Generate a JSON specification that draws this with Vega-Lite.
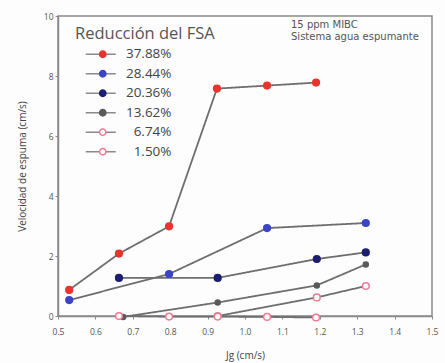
{
  "$schema": "https://vega.github.io/schema/vega-lite/v6.json",
  "width": 374,
  "height": 300,
  "autosize": "none",
  "padding": {"left": 58, "top": 16, "right": 13, "bottom": 47},
  "background": "#fdfdfd",
  "config": {
    "font": "Open Sans",
    "view": {"stroke": "#8a8a8a", "strokeWidth": 1.5},
    "axis": {"domainColor": "#8a8a8a", "domainWidth": 1.5, "tickColor": "#8a8a8a", "labelColor": "#555", "titleColor": "#444", "labelFontSize": 8.5, "titleFontSize": 10, "titleFontWeight": "normal", "grid": false, "tickSize": 3, "labelOverlap": false}
  },
  "datasets": {
    "pts": [
      {"s": "37.88%", "jg": 0.53, "v": 0.87},
      {"s": "37.88%", "jg": 0.663, "v": 2.08},
      {"s": "37.88%", "jg": 0.797, "v": 2.99},
      {"s": "37.88%", "jg": 0.925, "v": 7.58},
      {"s": "37.88%", "jg": 1.059, "v": 7.68},
      {"s": "37.88%", "jg": 1.19, "v": 7.78},
      {"s": "28.44%", "jg": 0.53, "v": 0.53},
      {"s": "28.44%", "jg": 0.797, "v": 1.4},
      {"s": "28.44%", "jg": 1.059, "v": 2.93},
      {"s": "28.44%", "jg": 1.323, "v": 3.1},
      {"s": "20.36%", "jg": 0.663, "v": 1.27},
      {"s": "20.36%", "jg": 0.927, "v": 1.27},
      {"s": "20.36%", "jg": 1.192, "v": 1.9},
      {"s": "20.36%", "jg": 1.323, "v": 2.12},
      {"s": "13.62%", "jg": 0.674, "v": -0.03},
      {"s": "13.62%", "jg": 0.927, "v": 0.45},
      {"s": "13.62%", "jg": 1.192, "v": 1.02},
      {"s": "13.62%", "jg": 1.323, "v": 1.72},
      {"s": "6.74%", "jg": 0.927, "v": 0.0},
      {"s": "6.74%", "jg": 1.192, "v": 0.62},
      {"s": "6.74%", "jg": 1.323, "v": 1.0},
      {"s": "1.50%", "jg": 0.663, "v": 0.0},
      {"s": "1.50%", "jg": 0.797, "v": -0.02},
      {"s": "1.50%", "jg": 0.927, "v": -0.02},
      {"s": "1.50%", "jg": 1.059, "v": -0.03},
      {"s": "1.50%", "jg": 1.19, "v": -0.05}
    ],
    "notes": [
      {"jg": 1.123, "v": 9.7, "t": "15 ppm MIBC"},
      {"jg": 1.123, "v": 9.3, "t": "Sistema agua espumante"}
    ]
  },
  "encoding": {
    "x": {"field": "jg", "type": "quantitative", "scale": {"domain": [0.5, 1.5], "nice": false, "zero": false}, "axis": {"values": [0.5,0.6,0.7,0.8,0.9,1.0,1.1,1.2,1.3,1.4,1.5], "format": ".1f", "title": "Jg (cm/s)", "labelPadding": 8, "titlePadding": 15, "labelOverlap": false, "labelFlush": false, "labelBound": false}},
    "y": {"field": "v", "type": "quantitative", "scale": {"domain": [0, 10], "nice": false}, "axis": {"values": [0,2,4,6,8,10], "title": "Velocidad de espuma (cm/s)", "titlePadding": 16, "labelOverlap": false, "labelFlush": false}}
  },
  "layer": [
    {
      "data": {"name": "pts"},
      "mark": {"type": "line", "color": "#6e6e6e", "strokeWidth": 1.8},
      "encoding": {
        "detail": {"field": "s"},
        "strokeDash": {"field": "s", "type": "nominal", "sort": ["37.88%", "28.44%", "20.36%", "13.62%", "6.74%", "1.50%"],
          "scale": {"range": [[1,0],[1,0],[1,0],[1,0],[1,0],[1,0]]},
          "legend": {"orient": "none", "legendX": 17, "legendY": 10, "title": "Reducción del FSA", "titleFontSize": 16.5, "titleFontWeight": "normal", "titleColor": "#555", "labelExpr": "' '", "labelFontSize": 13.5, "symbolType": "M-3,0H3", "symbolSize": 100, "symbolStrokeColor": "#8a8a8a", "symbolStrokeWidth": 1.5, "symbolOffset": 19, "rowPadding": 4.5, "titlePadding": 5}}
      }
    },
    {
      "data": {"name": "pts"},
      "mark": {"type": "point", "shape": "circle", "filled": false, "size": 45, "strokeWidth": 1.5, "opacity": 1},
      "encoding": {
        "fill": {"field": "s", "type": "nominal", "sort": ["37.88%", "28.44%", "20.36%", "13.62%", "6.74%", "1.50%"],
          "scale": {"domain": ["37.88%", "28.44%", "20.36%", "13.62%", "6.74%", "1.50%"], "range": ["#e8342c", "#3b45c4", "#1c1f70", "#5a5a5a", "#ffffff", "#ffffff"]},
          "legend": {"orient": "none", "legendX": 17, "legendY": 10, "title": "Reducción del FSA", "titleFontSize": 16.5, "titleFontWeight": "normal", "titleColor": "rgba(0,0,0,0)", "labelColor": "#444", "labelFontSize": 13.5, "symbolType": "circle", "symbolSize": 40, "symbolStrokeWidth": 1.5, "symbolOffset": 21, "labelAlign": "right", "labelOffset": 62, "rowPadding": 4.5, "titlePadding": 5}},
        "stroke": {"field": "s", "type": "nominal", "sort": ["37.88%", "28.44%", "20.36%", "13.62%", "6.74%", "1.50%"],
          "scale": {"domain": ["37.88%", "28.44%", "20.36%", "13.62%", "6.74%", "1.50%"], "range": ["#e8342c", "#3b45c4", "#1c1f70", "#5a5a5a", "#f07a94", "#f07a94"]}},
        "size": {"condition": {"test": "datum.s === '13.62%'", "value": 25}, "value": 45}
      }
    },
    {
      "data": {"name": "notes"},
      "mark": {"type": "text", "align": "left", "baseline": "middle", "fontSize": 10, "font": "DejaVu Sans", "color": "#555"},
      "encoding": {
        "text": {"field": "t"}
      }
    }
  ]
}
